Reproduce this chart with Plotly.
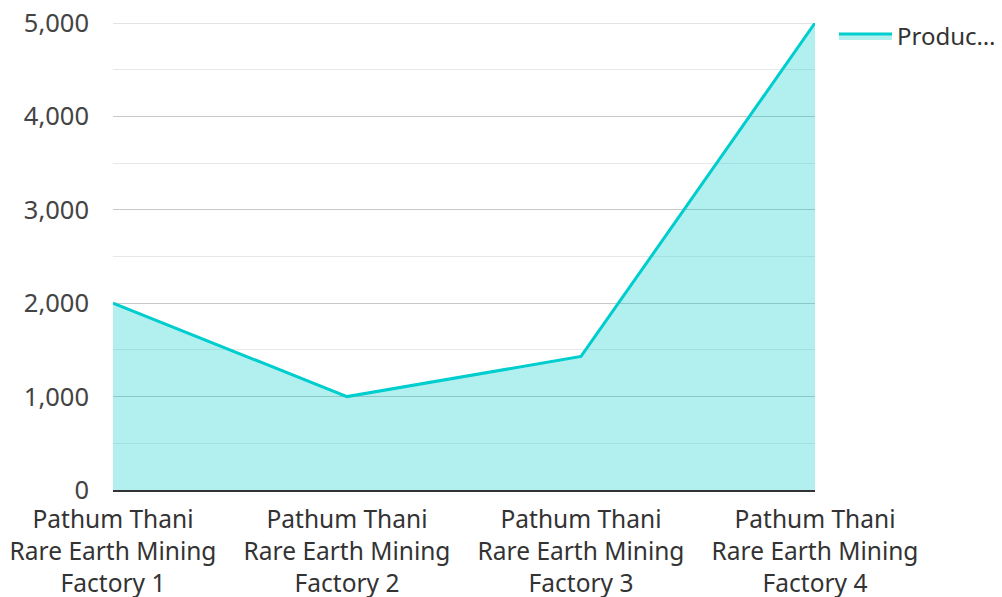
import plotly.graph_objects as go

categories = [
    "Pathum Thani<br>Rare Earth Mining<br>Factory 1",
    "Pathum Thani<br>Rare Earth Mining<br>Factory 2",
    "Pathum Thani<br>Rare Earth Mining<br>Factory 3",
    "Pathum Thani<br>Rare Earth Mining<br>Factory 4",
]
production = [2000, 1000, 1430, 5000]
series_name = "Produc…"
y_ticks = [0, 1000, 2000, 3000, 4000, 5000]
y_minor = [500, 1500, 2500, 3500, 4500]

fig = go.Figure()
fig.add_trace(go.Scatter(
    x=categories, y=production, name=series_name,
    mode="lines", fill="tozeroy",
    line=dict(color="#00CDCD", width=3),
    fillcolor="rgba(0,205,205,0.30)",
))

# top gridline at the axis maximum (plotly drops the one on the plot edge)
fig.add_shape(type="line", xref="paper", yref="y", x0=0, x1=1,
              y0=y_ticks[-1], y1=y_ticks[-1],
              line=dict(color="#C8C8C8", width=1), layer="below")

# page body adds an 8px margin, so the figure is sized/offset to compensate
fig.update_layout(
    width=994, height=589,
    margin=dict(l=105, r=187, t=15, b=107),
    paper_bgcolor="white", plot_bgcolor="white",
    font=dict(family="Noto Sans", size=24, color="#444444"),
    showlegend=True,
    legend=dict(xref="container", yref="container",
                x=0.831, y=0.99, xanchor="left", yanchor="top",
                font=dict(size=24, color="#333333"), itemwidth=53),
    xaxis=dict(type="category", range=[0, 3], showgrid=False, automargin=False,
               showline=True, linecolor="#333333", linewidth=2,
               ticks="", ticklabelstandoff=7,
               tickfont=dict(size=24.5, color="#333333")),
    yaxis=dict(range=[0, 5000], tickvals=y_ticks,
               tickformat=",", automargin=False, ticklabeloverflow="allow",
               showgrid=True, gridcolor="#C8C8C8", gridwidth=1,
               zeroline=False, ticks="", ticklabelstandoff=23,
               minor=dict(tickvals=y_minor, showgrid=True, gridcolor="#E8E8E8"),
               tickfont=dict(size=25.5, color="#444444")),
)

fig.write_html("out.html")
